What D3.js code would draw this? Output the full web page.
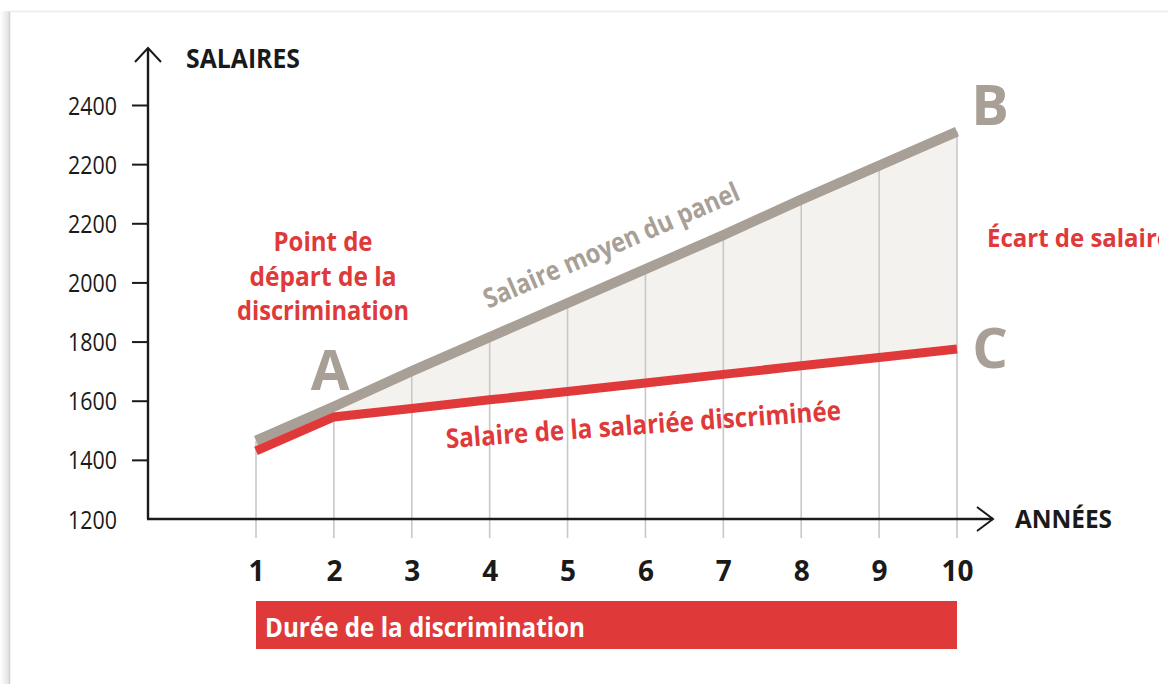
<!DOCTYPE html>
<html>
<head>
<meta charset="utf-8">
<script src="https://cdn.jsdelivr.net/npm/d3@7"></script>
<style>
  html, body { margin: 0; padding: 0; background: #fff; }
  svg { display: block; }
  text { font-family: "Liberation Sans Narrow", "Open Sans", sans-serif; }
</style>
</head>
<body>
<svg id="chart" width="1168" height="684"></svg>
<script>
// ---- data ----
const years = [1, 2, 3, 4, 5, 6, 7, 8, 9, 10];
const panelSalary = [1465, 1580, 1700, 1815, 1930, 2045, 2160, 2280, 2395, 2510];
const discriminatedSalary = [1430, 1545, 1574, 1603, 1631, 1660, 1689, 1718, 1746, 1775];
const yTickValues = [1200, 1400, 1600, 1800, 2000, 2200, 2400, 2600];
const yTickLabels = ["1200", "1400", "1600", "1800", "2000", "2200", "2200", "2400"];
const xTickLabels = ["1", "2", "3", "4", "5", "6", "7", "8", "9", "10"];

const RED = "#e0393a";
const GREY = "#a89f96";
const FILL = "#f4f2ee";
const GRID = "#c8c8c8";
const INK = "#1a1a1a";

const svg = d3.select("#chart");

// ---- page frame ----
const defs = svg.append("defs");
const grad = defs.append("linearGradient").attr("id", "shadow").attr("x1", "0").attr("x2", "1");
grad.append("stop").attr("offset", "0").attr("stop-color", "#ffffff");
grad.append("stop").attr("offset", "1").attr("stop-color", "#e2e2e2");
svg.append("rect").attr("x", 0).attr("y", 11).attr("width", 9).attr("height", 673).attr("fill", "url(#shadow)");
svg.append("line").attr("x1", 9.5).attr("x2", 9.5).attr("y1", 11).attr("y2", 684).attr("stroke", "#d2d2d2").attr("stroke-width", 1.5);
svg.append("line").attr("x1", 9).attr("x2", 1168).attr("y1", 11.5).attr("y2", 11.5).attr("stroke", "#ececec").attr("stroke-width", 1.5);

// ---- scales ----
const x = d3.scaleLinear().domain([1, 10]).range([256, 957]);
const y = d3.scaleLinear().domain([1200, 2600]).range([519, 105]);
const axisX0 = 148;

const rows = years.map((yr, i) => ({ yr, top: panelSalary[i], bot: discriminatedSalary[i] }));

// ---- area between lines ----
svg.append("path")
  .datum(rows)
  .attr("fill", FILL)
  .attr("d", d3.area().x(d => x(d.yr)).y0(d => y(d.bot)).y1(d => y(d.top)));

// ---- vertical grid lines ----
svg.append("g").selectAll("line")
  .data(rows)
  .join("line")
  .attr("x1", d => x(d.yr)).attr("x2", d => x(d.yr))
  .attr("y1", y(1200) + 19).attr("y2", d => y(d.top))
  .attr("stroke", GRID).attr("stroke-width", 1.6);

// ---- y axis ----
const yAxis = d3.axisLeft(y)
  .tickValues(yTickValues)
  .tickFormat((d, i) => yTickLabels[i])
  .tickSize(16)
  .tickPadding(15);
const gy = svg.append("g").attr("transform", `translate(${axisX0},0)`).call(yAxis);
gy.select(".domain").remove();
gy.selectAll(".tick line").attr("stroke", INK).attr("stroke-width", 2)
  .filter(d => d === 1200).remove();
gy.selectAll(".tick text")
  .attr("fill", INK)
  .style("font-size", "25px")
  .style("font-family", '"Liberation Sans Narrow", "Open Sans", sans-serif')
  .attr("textLength", 49).attr("lengthAdjust", "spacingAndGlyphs")
  .attr("dy", "0.36em");

// ---- x axis ----
const xAxis = d3.axisBottom(x)
  .tickValues(years)
  .tickFormat((d, i) => xTickLabels[i])
  .tickSize(0)
  .tickPadding(42);
const gx = svg.append("g").attr("transform", `translate(0,${y(1200)})`).call(xAxis);
gx.select(".domain").remove();
gx.selectAll(".tick text")
  .attr("fill", INK)
  .style("font-size", "28px")
  .style("font-weight", "bold")
  .style("font-family", '"Liberation Sans Narrow", "Open Sans", sans-serif');

// axis lines with arrows
const axisG = svg.append("g").attr("fill", "none").attr("stroke", INK).attr("stroke-width", 2.4);
axisG.append("path").attr("d", `M${axisX0},${y(1200)}V48`);
axisG.append("path").attr("d", `M${axisX0 - 13},62L${axisX0},48L${axisX0 + 13},62`).attr("stroke-width", 2);
axisG.append("path").attr("d", `M${axisX0 - 1},${y(1200)}H993`);
axisG.append("path").attr("d", `M977,${y(1200) - 12}L993,${y(1200)}L977,${y(1200) + 12}`).attr("stroke-width", 2);

// ---- lines ----
const lineTop = d3.line().x(d => x(d.yr)).y(d => y(d.top));
const lineBot = d3.line().x(d => x(d.yr)).y(d => y(d.bot));
svg.append("path").datum(rows).attr("d", lineTop)
  .attr("fill", "none").attr("stroke", GREY).attr("stroke-width", 10);
svg.append("path").datum(rows).attr("d", lineBot)
  .attr("fill", "none").attr("stroke", RED).attr("stroke-width", 9);

// ---- axis titles ----
svg.append("text").attr("x", 186).attr("y", 68).text("SALAIRES")
  .attr("fill", INK).style("font-size", "27px").style("font-weight", "bold")
  .attr("textLength", 114).attr("lengthAdjust", "spacingAndGlyphs");
svg.append("text").attr("x", 1015).attr("y", 528).text("ANNÉES")
  .attr("fill", INK).style("font-size", "25px").style("font-weight", "bold")
  .attr("textLength", 97).attr("lengthAdjust", "spacingAndGlyphs");

// ---- annotations ----
const startLines = [["Point de", 99, 251], ["départ de la", 147, 286], ["discrimination", 172, 320]];
const startText = svg.append("text")
  .attr("text-anchor", "middle")
  .attr("fill", RED).style("font-size", "27px").style("font-weight", "bold");
startText.selectAll("tspan").data(startLines).join("tspan")
  .attr("x", 323).attr("y", d => d[2])
  .attr("textLength", d => d[1]).attr("lengthAdjust", "spacingAndGlyphs")
  .text(d => d[0]);

const letterStyle = s => s.attr("fill", GREY).style("font-size", "56px").style("font-weight", "bold")
  .attr("text-anchor", "middle");
svg.append("text").attr("x", 330).attr("y", 390).text("A").call(letterStyle);
svg.append("text").attr("x", 990).attr("y", 125).text("B").call(letterStyle);
svg.append("text").attr("x", 990).attr("y", 368).text("C").call(letterStyle);

svg.append("text").attr("transform", "translate(615,254) rotate(-23.4)")
  .attr("text-anchor", "middle").text("Salaire moyen du panel")
  .attr("fill", GREY).style("font-size", "27px").style("font-weight", "bold")
  .attr("textLength", 276).attr("lengthAdjust", "spacingAndGlyphs");

svg.append("text").attr("transform", "translate(644,434) rotate(-4.1)")
  .attr("text-anchor", "middle").text("Salaire de la salariée discriminée")
  .attr("fill", RED).style("font-size", "27px").style("font-weight", "bold")
  .attr("textLength", 396).attr("lengthAdjust", "spacingAndGlyphs");

defs.append("clipPath").attr("id", "edge").append("rect")
  .attr("x", 0).attr("y", 0).attr("width", 1159).attr("height", 684);
svg.append("text").attr("x", 987).attr("y", 247).text("Écart de salaire")
  .attr("clip-path", "url(#edge)")
  .attr("fill", RED).style("font-size", "25px").style("font-weight", "bold")
  .attr("textLength", 184).attr("lengthAdjust", "spacingAndGlyphs");

// ---- duration bar ----
svg.append("rect")
  .attr("x", x(years[0])).attr("width", x(years[years.length - 1]) - x(years[0]))
  .attr("y", 601).attr("height", 48).attr("fill", RED);
svg.append("text").attr("x", 265).attr("y", 637).text("Durée de la discrimination")
  .attr("fill", "#fff").style("font-size", "26px").style("font-weight", "bold")
  .attr("textLength", 320).attr("lengthAdjust", "spacingAndGlyphs");
</script>
</body>
</html>
